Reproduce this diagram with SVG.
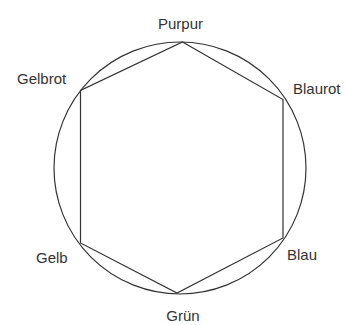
<svg xmlns="http://www.w3.org/2000/svg" width="345" height="325" viewBox="0 0 345 325">
<style>
.lbl{font-family:"Liberation Sans",Arial,sans-serif;font-size:15px;fill:#333}
.ln{fill:none;stroke:#333;stroke-width:1.2}
</style>
<rect width="345" height="325" fill="#fff"/>
<g id="connectors">
<circle class="ln" cx="180" cy="168" r="126"/>
<polygon class="ln" points="182.5,42 283,99.5 283,238 177,293 80.5,243 80.5,90.5"/>
</g>
<g id="purpur"><text class="lbl" x="180.5" y="29" text-anchor="middle">Purpur</text></g>
<g id="blaurot"><text class="lbl" x="293" y="94">Blaurot</text></g>
<g id="blau"><text class="lbl" x="287" y="259.5">Blau</text></g>
<g id="gruen"><text class="lbl" x="183" y="321" text-anchor="middle">Grün</text></g>
<g id="gelb"><text class="lbl" x="36" y="263">Gelb</text></g>
<g id="gelbrot"><text class="lbl" x="17" y="84">Gelbrot</text></g>
</svg>
